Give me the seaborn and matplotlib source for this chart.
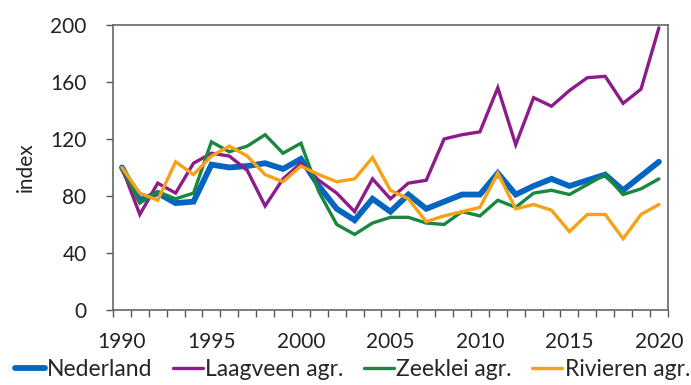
import numpy as np
import pandas as pd
import seaborn as sns
import matplotlib.pyplot as plt
from matplotlib.ticker import FixedLocator

years = list(range(1990, 2021))
nederland = [100, 77, 82, 75, 76, 102, 100, 101, 103, 99, 106, 87, 71, 63, 78, 69,
             81, 71, 76, 81, 81, 96, 81, 87, 92, 87, 91, 95, 84, 94, 104]
laagveen = [100, 67, 89, 82, 103, 110, 108, 98, 73, 92, 103, 91, 82, 69, 92, 78,
            89, 91, 120, 123, 125, 156, 116, 149, 143, 154, 163, 164, 145, 155, 198]
zeeklei = [100, 75, 83, 78, 82, 118, 111, 115, 123, 110, 117, 83, 60, 53, 61, 65,
           65, 61, 60, 69, 66, 77, 72, 82, 84, 81, 88, 95, 81, 85, 92]
rivieren = [100, 82, 77, 104, 95, 108, 115, 108, 95, 90, 101, 95, 90, 92, 107, 84,
            78, 62, 66, 69, 72, 96, 71, 74, 70, 55, 67, 67, 50, 67, 74]

series = ['Nederland', 'Laagveen agr.', 'Zeeklei agr.', 'Rivieren agr.']
colors = ['#0566C2', '#8C1C8A', '#1B8640', '#F7A116']
widths = [4.2, 2.4, 2.4, 2.4]

df = pd.DataFrame({'jaar': years, series[0]: nederland, series[1]: laagveen,
                   series[2]: zeeklei, series[3]: rivieren})
df = df.melt(id_vars='jaar', var_name='reeks', value_name='index')

sns.set_style('white')
plt.rcParams['font.family'] = ['Lato', 'DejaVu Sans']
fs = 15

fig = plt.figure(figsize=(6.91, 3.85), dpi=100)
ax = fig.add_axes([0.1635, 0.195, 0.803, 0.74])

for name, col, lw in zip(series, colors, widths):
    sns.lineplot(data=df[df['reeks'] == name], x='jaar', y='index', color=col,
                 linewidth=lw, ax=ax, label=name, solid_joinstyle='miter')

ax.set_xlim(1989.5, 2020.5)
ax.set_ylim(0, 200)
ax.set_yticks(range(0, 201, 40))
ax.set_xticks(range(1990, 2021, 5))
ax.xaxis.set_minor_locator(FixedLocator(np.arange(1989.5, 2021, 1)))
ax.tick_params(axis='x', which='major', length=0, labelsize=fs, pad=16, colors='#222222')
ax.tick_params(axis='x', which='minor', length=5, width=1, color='#555555', direction='out', bottom=True)
ax.tick_params(axis='y', which='major', length=5, width=1, color='#555555', direction='out',
               left=True, labelsize=fs, labelcolor='#222222', pad=14)
ax.set_xlabel('')
ax.set_ylabel('index', fontsize=fs, color='#222222', labelpad=10)
for s in ax.spines.values():
    s.set_color('#666666')
    s.set_linewidth(1.2)

ax.legend(loc='lower center', bbox_to_anchor=(0.51, -0.01), bbox_transform=fig.transFigure,
          ncol=4, frameon=False, fontsize=16.5, handlelength=1.3, handletextpad=0.1,
          columnspacing=0.9, borderaxespad=0)

fig.savefig('out.png', dpi=100)
